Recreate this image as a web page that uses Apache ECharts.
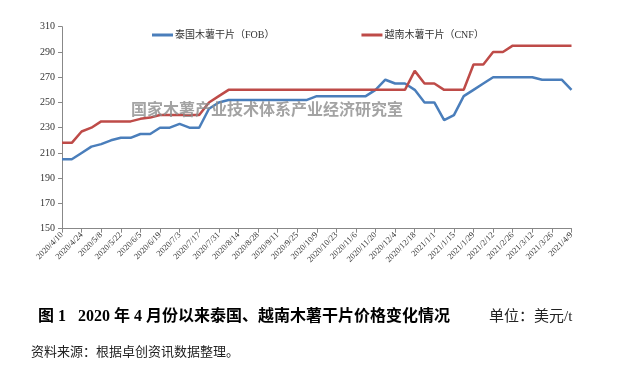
<!DOCTYPE html>
<html>
<head>
<meta charset="utf-8">
<script src="https://cdn.jsdelivr.net/npm/echarts@6/dist/echarts.min.js"></script>
<style>
html,body{margin:0;padding:0;background:#fff;}
#chart{width:626px;height:367px;}
</style>
</head>
<body>
<div id="chart"></div>
<script>
var categories = [
  '2020/4/10','2020/4/17','2020/4/24','2020/5/1','2020/5/8','2020/5/15','2020/5/22','2020/5/29',
  '2020/6/5','2020/6/12','2020/6/19','2020/6/26','2020/7/3','2020/7/10','2020/7/17','2020/7/24',
  '2020/7/31','2020/8/7','2020/8/14','2020/8/21','2020/8/28','2020/9/4','2020/9/11','2020/9/18',
  '2020/9/25','2020/10/2','2020/10/9','2020/10/16','2020/10/23','2020/10/30','2020/11/6','2020/11/13',
  '2020/11/20','2020/11/27','2020/12/4','2020/12/11','2020/12/18','2020/12/25','2021/1/1','2021/1/8',
  '2021/1/15','2021/1/22','2021/1/29','2021/2/5','2021/2/12','2021/2/19','2021/2/26','2021/3/5',
  '2021/3/12','2021/3/19','2021/3/26','2021/4/2','2021/4/9'
];
var thaiFOB = [
  205,205,210,215,217,220,222,222,225,225,230,230,233,230,230,245,
  250,252,252,252,252,252,252,252,252,252,255,255,255,255,255,255,
  260,268,265,265,260,250,250,236,240,255,260,265,270,270,270,270,
  270,268,268,268,260
];
var vietCNF = [
  218,218,227,230,235,235,235,235,237,238,240,240,240,240,240,250,
  255,260,260,260,260,260,260,260,260,260,260,260,260,260,260,260,
  260,260,260,260,275,265,265,260,260,260,280,280,290,290,295,295,
  295,295,295,295,295
];
var seriesNames = ['泰国木薯干片（FOB）', '越南木薯干片（CNF）'];
var yTicks = {min: 150, max: 310, interval: 20};

var serif = '"Liberation Serif", "Noto Sans CJK SC", serif';
var chart = echarts.init(document.getElementById('chart'));
chart.setOption({
  animation: false,
  backgroundColor: '#fff',
  grid: {left: 62, right: 54.5, top: 26.7, bottom: 138.3, containLabel: false},
  legend: {
    left: 152, top: 30, padding: 0,
    icon: 'rect', itemWidth: 21, itemHeight: 3, itemGap: 87,
    textStyle: {fontFamily: serif, fontSize: 10, color: '#333', padding: [0,0,0,-3]},
    data: seriesNames
  },
  xAxis: {
    type: 'category',
    boundaryGap: false,
    data: categories,
    axisLine: {lineStyle: {color: '#888', width: 1}},
    axisTick: {show: true, interval: 1, length: 4, lineStyle: {color: '#888'}},
    axisLabel: {interval: 1, rotate: 45, fontFamily: serif, fontSize: 8.5, color: '#333', margin: 5}
  },
  yAxis: {
    type: 'value',
    min: yTicks.min, max: yTicks.max, interval: yTicks.interval,
    splitLine: {show: false},
    axisLine: {show: true, lineStyle: {color: '#888', width: 1}},
    axisTick: {show: true, length: 4, lineStyle: {color: '#888'}},
    axisLabel: {fontFamily: serif, fontSize: 10, color: '#333', margin: 7}
  },
  series: [
    {name: seriesNames[0], type: 'line', data: thaiFOB, symbol: 'none',
     lineStyle: {color: '#4a7ebb', width: 2.5}, itemStyle: {color: '#4a7ebb'}},
    {name: seriesNames[1], type: 'line', data: vietCNF, symbol: 'none',
     lineStyle: {color: '#be4b48', width: 2.5}, itemStyle: {color: '#be4b48'}}
  ],
  graphic: [
    {type: 'text', left: 131, top: 101, z: 100,
     style: {text: '国家木薯产业技术体系产业经济研究室', fill: 'rgba(140,140,140,0.8)',
             font: 'bold 16px "Noto Sans CJK SC", sans-serif'}},
    {type: 'text', left: 38, top: 309,
     style: {text: '图 1   2020 年 4 月份以来泰国、越南木薯干片价格变化情况', fill: '#000',
             font: 'bold 16px "Liberation Serif", "Noto Sans CJK SC", serif'}},
    {type: 'text', left: 489, top: 310,
     style: {text: '单位：美元/t', fill: '#222',
             font: '15px "Liberation Serif", "Noto Sans CJK SC", serif'}},
    {type: 'text', left: 31, top: 346,
     style: {text: '资料来源：根据卓创资讯数据整理。', fill: '#222',
             font: '13px "Liberation Serif", "Noto Sans CJK SC", serif'}}
  ]
});
</script>
</body>
</html>
